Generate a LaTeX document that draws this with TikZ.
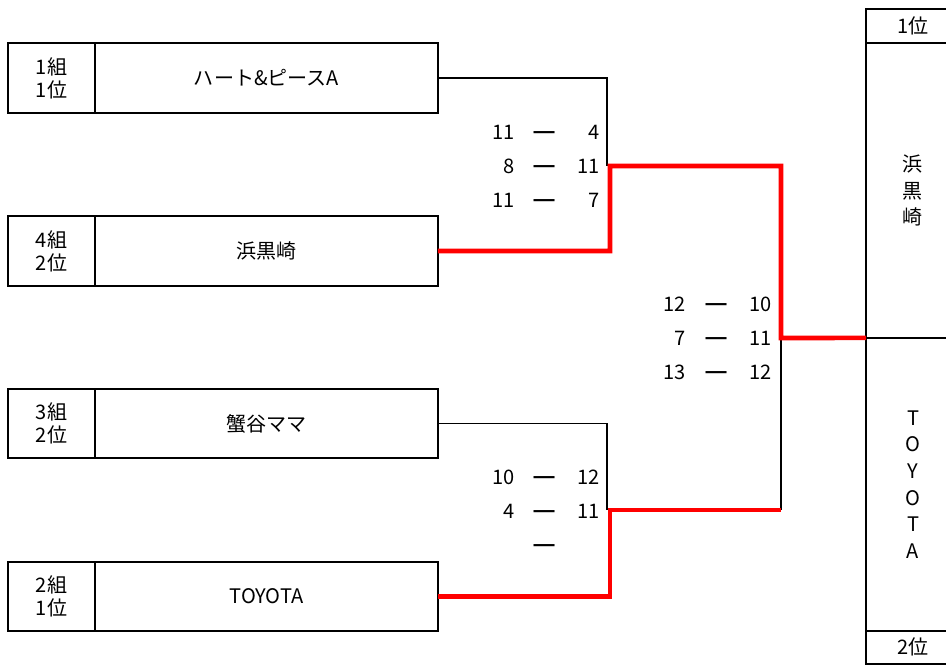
\documentclass[tikz,border=0pt]{standalone}
\usepackage{fontspec}
\usepackage{graphicx}
\setmainfont{Noto Sans CJK JP}
\usetikzlibrary{positioning}

\newcommand{\scoredash}{\scalebox{1.5}[0.9]{－}}

\tikzset{
  rankbox/.style={draw, line width=1.1pt, minimum width=1.74cm, minimum height=1.39cm,
    inner sep=0pt, outer sep=0pt, align=center, font=\fontsize{11.4}{13.1}\selectfont},
  teambox/.style={draw, line width=1.1pt, minimum width=6.86cm, minimum height=1.39cm,
    inner sep=0pt, outer sep=0pt, font=\fontsize{11.4}{13.1}\selectfont},
  cell/.style={draw, line width=1.1pt, minimum width=1.88cm, inner sep=0pt, outer sep=0pt,
    align=center, font=\fontsize{11.4}{15.1}\selectfont},
  score/.style={inner sep=0pt, anchor=base east, font=\fontsize{11.4}{13}\selectfont},
  dashsign/.style={inner sep=0pt, anchor=base, font=\fontsize{11.4}{13}\bfseries},
  wire/.style={line width=0.7pt},
  win/.style={red, line width=2.6pt},
}

\begin{document}
\begin{tikzpicture}[x=0.02cm,y=-0.02cm]
 \useasboundingbox (0,0) rectangle (946,666);
 % teams
 \node[rankbox] (r1) at (51.5,78) {1組\\1位};
 \node[teambox,right=0pt of r1] (t1) {ハート\&ピースA};
 \node[rankbox] (r2) at (51.5,251) {4組\\2位};
 \node[teambox,right=0pt of r2] (t2) {浜黒崎};
 \node[rankbox] (r3) at (51.5,423.5) {3組\\2位};
 \node[teambox,right=0pt of r3] (t3) {蟹谷ママ};
 \node[rankbox] (r4) at (51.5,596.5) {2組\\1位};
 \node[teambox,right=0pt of r4] (t4) {TOYOTA};
 % result column
 \node[cell,minimum height=0.68cm] (first) at (913,26) {1位};
 \node[cell,minimum height=5.9cm,below=0pt of first] (champ) {浜\\黒\\崎};
 \node[cell,minimum height=5.86cm,below=0pt of champ] (runner) {T\\O\\Y\\O\\T\\A};
 \node[cell,minimum height=0.66cm,below=0pt of runner] (second) {2位};
 % junctions
 \coordinate (m1) at (607,166);
 \coordinate (m2) at (607,510);
 \coordinate (s1) at (610,166);
 \coordinate (s2) at (610,510);
 \coordinate (f1) at (781,338);
 \coordinate (f2) at (781,510);
 % lines
 \draw[wire] (t1.east) -| (m1);
 \draw[wire] (t3.east) -| (m2);
 \draw[wire] (f2) -- (f1);
 \draw[win] (t2.east) -| (s1) -| (f1) -- (champ.south west);
 \draw[win] (t4.east) -| (s2) -- (f2);
 % semi final 1 (baselines)
 \node[score] (a1) at (515,139) {11};
 \node[dashsign] (b1) at (545,139) {\scoredash};
 \node[score] (c1) at (600,139) {4};
 \node[score] (a2) at (515,173) {8};
 \node[dashsign] (b2) at (545,173) {\scoredash};
 \node[score] (c2) at (600,173) {11};
 \node[score] (a3) at (515,207) {11};
 \node[dashsign] (b3) at (545,207) {\scoredash};
 \node[score] (c3) at (600,207) {7};
 % final
 \node[score] (a4) at (686,311) {12};
 \node[dashsign] (b4) at (717,311) {\scoredash};
 \node[score] (c4) at (772,311) {10};
 \node[score] (a5) at (686,345) {7};
 \node[dashsign] (b5) at (717,345) {\scoredash};
 \node[score] (c5) at (772,345) {11};
 \node[score] (a6) at (686,379) {13};
 \node[dashsign] (b6) at (717,379) {\scoredash};
 \node[score] (c6) at (772,379) {12};
 % semi final 2
 \node[score] (a7) at (515,484) {10};
 \node[dashsign] (b7) at (545,484) {\scoredash};
 \node[score] (c7) at (600,484) {12};
 \node[score] (a8) at (515,518) {4};
 \node[dashsign] (b8) at (545,518) {\scoredash};
 \node[score] (c8) at (600,518) {11};
 \node[dashsign] (b9) at (545,552) {\scoredash};
\end{tikzpicture}
\end{document}
